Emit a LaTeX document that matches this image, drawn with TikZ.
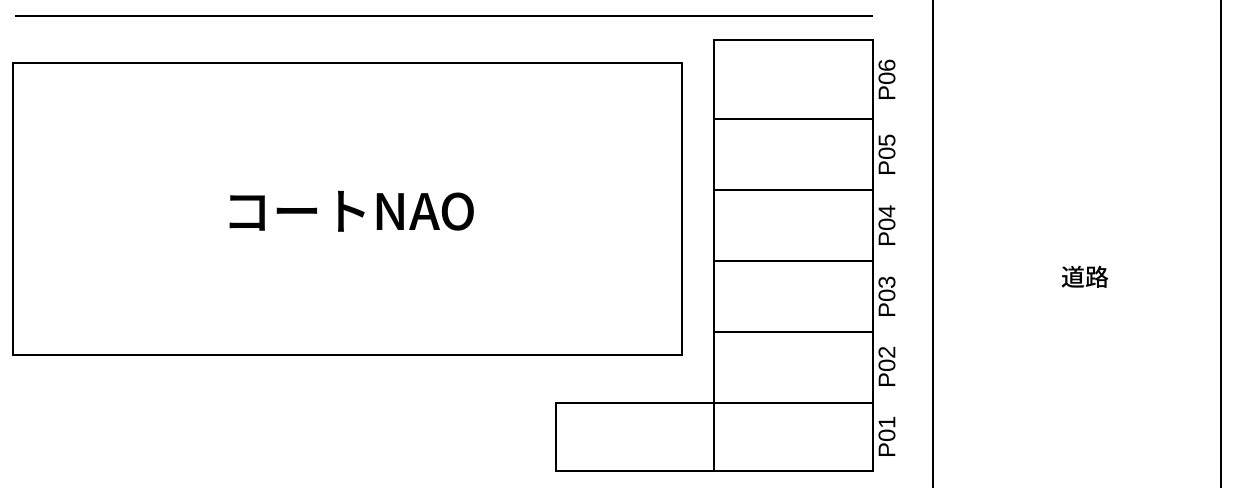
\documentclass[tikz,border=0pt]{standalone}
\usepackage{fontspec}
\setmainfont{Liberation Sans}
\newfontfamily\cjk{Noto Sans CJK JP Medium}
\begin{document}
\begin{tikzpicture}[x=1pt,y=-1pt,line width=2.6pt,
  lbl/.style={rotate=90,font=\fontsize{24}{24}\selectfont,inner sep=0pt}]
\useasboundingbox (0,0) rectangle (1244,488);
\draw (15,16) -- (873,16);
\draw (13,63) rectangle (682,355);
\node (bld) at (350,212) {\cjk\fontsize{50}{50}\selectfont コートNAO};
\draw (714,40) rectangle (873,471);
\foreach \y in {119,190,261,332,403} \draw (714,\y) -- (873,\y);
\draw (556,403) rectangle (714,471);
\node[lbl] (p6) at (887,80) {P06};
\node[lbl] (p5) at (887,155) {P05};
\node[lbl] (p4) at (887,226) {P04};
\node[lbl] (p3) at (887,297) {P03};
\node[lbl] (p2) at (887,367) {P02};
\node[lbl] (p1) at (887,437) {P01};
\draw (933,0) -- (933,488);
\draw (1221,0) -- (1221,488);
\node (road) at (1085,277) {\cjk\fontsize{24}{24}\selectfont 道路};
\end{tikzpicture}
\end{document}
